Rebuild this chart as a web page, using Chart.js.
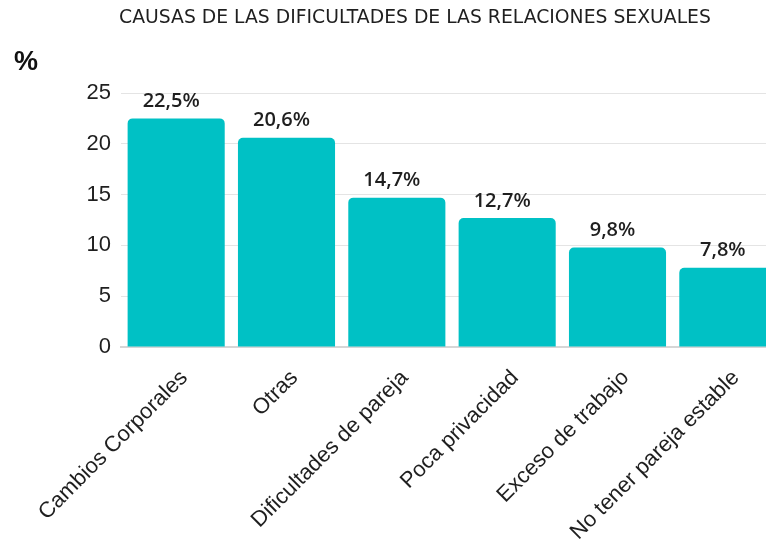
<!DOCTYPE html>
<html lang="es">
<head>
<meta charset="utf-8">
<title>Causas de las dificultades de las relaciones sexuales</title>
<script src="https://cdn.jsdelivr.net/npm/chart.js@4.4.1/dist/chart.umd.min.js"></script>
<style>
    html, body { margin: 0; padding: 0; background: #fff; overflow: hidden; }
    #wrap { position: absolute; left: 0; top: 0; width: 783px; height: 543px; }
</style>
</head>
<body>
<div id="wrap"><canvas id="chart"></canvas></div>
<script>
// Data
const categories = ['Cambios Corporales', 'Otras', 'Dificultades de pareja', 'Poca privacidad', 'Exceso de trabajo', 'No tener pareja estable'];
const percentages = [22.5, 20.6, 14.7, 12.7, 9.8, 7.8];
const yTicks = [0, 5, 10, 15, 20, 25];

const chartTitle = 'CAUSAS DE LAS DIFICULTADES DE LAS RELACIONES SEXUALES';
const unitLabel = '%';

const barColor = '#00c1c5';
const textColor = '#1f1f1f';

// Value labels above each bar ("22,5%")
const valueLabels = {
    id: 'valueLabels',
    afterDatasetsDraw(chart) {
        const ctx = chart.ctx;
        const meta = chart.getDatasetMeta(0);
        ctx.save();
        ctx.font = '600 20px "Open Sans"';
        ctx.fillStyle = textColor;
        ctx.textAlign = 'center';
        ctx.textBaseline = 'bottom';
        meta.data.forEach((bar, i) => {
            const text = percentages[i].toString().replace('.', ',') + '%';
            ctx.fillText(text, bar.x - 5, bar.y - 7);
        });
        ctx.restore();
    }
};

// Title (sits a bit right of centre, like the original) and the "%" unit mark
const headings = {
    id: 'headings',
    afterDraw(chart) {
        const ctx = chart.ctx;
        ctx.save();
        ctx.fillStyle = textColor;
        ctx.textAlign = 'center';
        ctx.textBaseline = 'middle';
        ctx.font = '18.8px "DejaVu Sans"';
        ctx.fillText(chartTitle, 415, 18);

        ctx.font = 'bold 27px "Liberation Sans"';
        ctx.fillStyle = '#111';
        ctx.fillText(unitLabel, 26, 63);
        ctx.restore();
    }
};

new Chart(document.getElementById('chart'), {
    type: 'bar',
    data: {
        labels: categories,
        datasets: [{
            data: percentages,
            backgroundColor: barColor,
            borderRadius: { topLeft: 5, topRight: 5 },
            borderSkipped: 'bottom',
            categoryPercentage: 1,
            barPercentage: 0.88
        }]
    },
    options: {
        responsive: true,
        maintainAspectRatio: false,
        animation: false,
        layout: { padding: { left: 0, right: 0, top: 93, bottom: 0 } },
        plugins: {
            legend: { display: false },
            tooltip: { enabled: false },
            title: { display: false }
        },
        scales: {
            x: {
                grid: { display: false },
                border: { display: true, color: '#d6d6d6', width: 2 },
                ticks: {
                    color: textColor,
                    font: { family: '"Liberation Sans"', size: 22 },
                    minRotation: 45,
                    maxRotation: 45,
                    padding: 10,
                    labelOffset: 8
                },
                afterFit(scale) { scale.height = 196; }
            },
            y: {
                min: yTicks[0],
                max: yTicks[yTicks.length - 1],
                border: { display: false },
                grid: { color: '#e4e4e4', drawTicks: false },
                ticks: {
                    stepSize: yTicks[1] - yTicks[0],
                    color: textColor,
                    font: { family: '"Liberation Sans"', size: 22 },
                    padding: 10
                },
                afterFit(scale) { scale.width = 121; }
            }
        }
    },
    plugins: [valueLabels, headings]
});
</script>
</body>
</html>
